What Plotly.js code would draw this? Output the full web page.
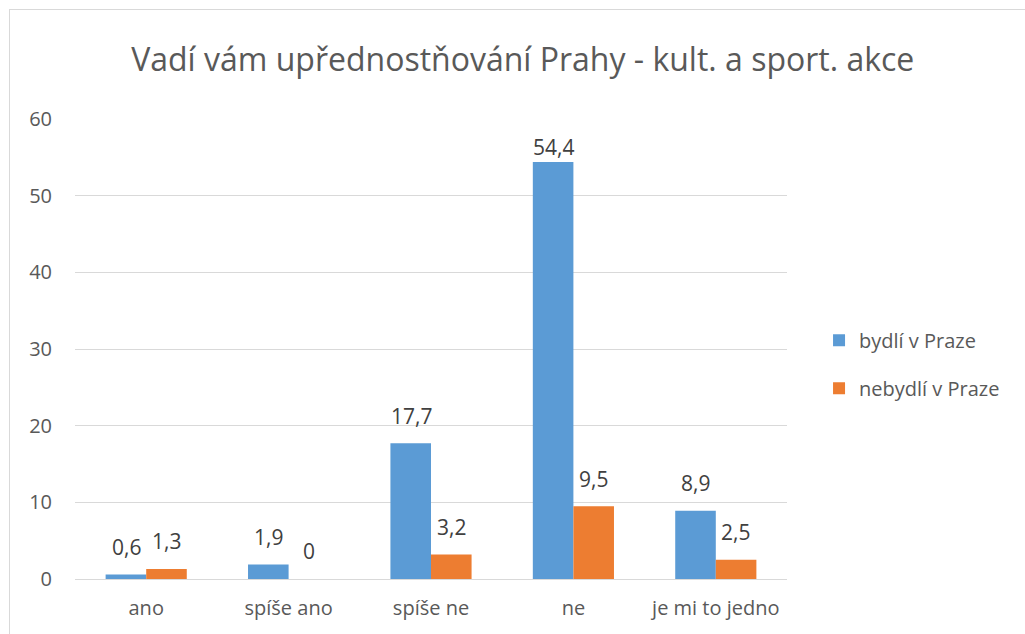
<!DOCTYPE html>
<html><head><meta charset="utf-8">
<script src="https://cdn.plot.ly/plotly-3.0.1.min.js"></script>
<style>
html,body{margin:0;padding:0;background:#fff;}
#wrap{position:relative;width:1025px;height:634px;}
#chart{position:absolute;left:0;top:0;width:1025px;height:634px;}
#frame{position:absolute;left:9px;top:9px;width:1016px;height:625px;border-left:1px solid #d9d9d9;border-top:1px solid #d9d9d9;pointer-events:none;}
</style></head>
<body><div id="wrap"><div id="chart"></div><div id="frame"></div></div>
<script>
const categories = ["ano", "spíše ano", "spíše ne", "ne", "je mi to jedno"];
const seriesNames = ["bydlí v Praze", "nebydlí v Praze"];
const bydli = [0.6, 1.9, 17.7, 54.4, 8.9];
const nebydli = [1.3, 0, 3.2, 9.5, 2.5];
const yTicks = [0, 10, 20, 30, 40, 50, 60];

const FONT = "Open Sans, Noto Sans, sans-serif";
const TXT = "#595959";
const colors = ["#5b9bd5", "#ed7d31"];
const fmt = v => String(v).replace(".", ",");

const traces = [bydli, nebydli].map((vals, i) => ({
  type: "bar", name: seriesNames[i], x: categories, y: vals,
  marker: {color: colors[i]}, legendgroup: "g" + i, hoverinfo: "x+y"
}));

const annotations = [];
[bydli, nebydli].forEach((vals, i) => {
  vals.forEach((v, j) => {
    annotations.push({
      x: categories[j], y: Math.min(v + 3.6, 56.3), xref: "x", yref: "y",
      xshift: i === 0 ? -20 : 20, text: fmt(v), showarrow: false,
      yanchor: "middle", font: {family: FONT, size: 21, color: "#404040"}
    });
  });
});

const layout = {
  width: 1025, height: 634,
  margin: {l: 75, r: 238, t: 118.5, b: 55},
  paper_bgcolor: "#fff", plot_bgcolor: "#fff",
  title: {text: "Vadí vám upřednostňování Prahy - kult. a sport. akce",
    font: {family: FONT, size: 32, color: TXT}, x: 0.51, xref: "container", xanchor: "center",
    y: 0.905, yref: "container", yanchor: "middle"},
  barmode: "group", bargap: 0.43, bargroupgap: 0,
  xaxis: {type: "category", showgrid: false, zeroline: false, showline: false,
    ticks: "", tickfont: {family: FONT, size: 20, color: TXT}, ticklabelstandoff: 15},
  yaxis: {range: [0, 60], tickvals: yTicks, showgrid: true, gridcolor: "#d9d9d9", gridwidth: 1,
    zeroline: true, zerolinecolor: "#d9d9d9", zerolinewidth: 1, showline: false, ticks: "",
    tickfont: {family: FONT, size: 20, color: TXT}, ticklabelstandoff: 22},
  legend: {x: 1.045, xanchor: "left", y: 0.467, yanchor: "middle", traceorder: "grouped",
    tracegroupgap: 19, font: {family: FONT, size: 20, color: TXT}, bgcolor: "rgba(0,0,0,0)"},
  showlegend: true,
  annotations: annotations
};
Plotly.newPlot("chart", traces, layout, {displayModeBar: false, staticPlot: true});
</script></body></html>
